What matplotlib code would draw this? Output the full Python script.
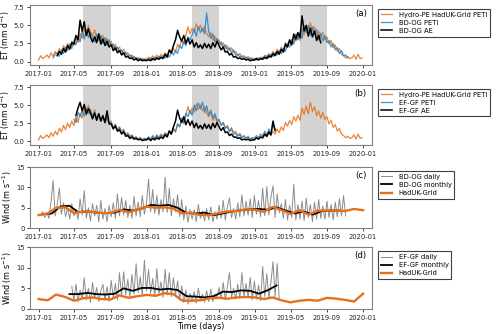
import numpy as np
import pandas as pd
import matplotlib
matplotlib.use("Agg")
from matplotlib import pyplot as plt
import matplotlib.dates as mdates

# ---- ET data (weekly values, mm/day) ----
hydro_pe_start = "2017-01-01"
hydro_pe = [
    # 2017
    0.2, 0.8, 0.4, 0.6, 0.9, 0.5, 1.2, 0.7, 1.4, 0.9, 1.8, 1.3, 2.2,
    1.6, 2.5, 1.9, 2.8, 2.2, 3.4, 2.6, 3.9, 3.2, 4.6, 3.6, 5.0, 4.1,
    3.5, 4.4, 3.0, 3.9, 2.8, 3.6, 2.5, 3.2, 2.4, 2.8, 1.9, 2.4, 1.6,
    2.0, 1.3, 1.7, 1.0, 1.2, 0.7, 0.9, 0.5, 0.6, 0.3, 0.5, 0.2, 0.4,
    # 2018
    0.3, 0.6, 0.3, 0.8, 0.4, 0.9, 0.5, 1.0, 0.7, 1.2, 0.8, 1.5, 1.1,
    1.8, 1.3, 2.4, 2.0, 3.0, 2.4, 3.6, 4.8, 3.8, 4.6, 4.0, 5.2, 4.4,
    5.0, 4.2, 4.8, 3.9, 3.4, 4.0, 2.9, 3.5, 2.6, 3.0, 2.2, 2.6, 1.8,
    2.2, 1.5, 1.9, 1.2, 1.4, 0.8, 1.1, 0.6, 0.8, 0.4, 0.7, 0.3, 0.5,
    # 2019
    0.2, 0.5, 0.3, 0.6, 0.4, 0.9, 0.6, 1.1, 0.8, 1.4, 1.0, 1.7, 1.2,
    2.0, 1.5, 2.6, 2.1, 2.9, 2.3, 3.4, 2.8, 3.6, 2.9, 4.6, 3.7, 4.9,
    3.8, 5.4, 4.1, 4.8, 3.5, 4.2, 3.2, 4.0, 3.0, 3.4, 2.4, 2.9, 1.9,
    2.3, 1.4, 1.8, 1.0, 0.8, 0.5, 0.7, 0.4, 0.5, 0.9, 0.3, 1.0, 0.4,
    0.5,
]

bdog_peti_start = "2017-02-19"
bdog_peti = [
    0.5, 1.0,
    1.2, 0.7, 1.6, 1.1, 2.0, 1.5, 2.4, 1.8, 2.9, 2.3, 3.5, 2.7, 4.2,
    3.1, 4.4, 3.3, 4.0, 3.4, 2.7, 3.8, 2.9, 3.6, 2.5, 3.3, 2.2, 3.0, 2.1,
    2.4, 1.6, 2.0, 1.3, 1.6, 1.0, 1.3, 0.7, 0.9, 0.5, 0.7, 0.3, 0.5,
    0.2, 0.4, 0.1, 0.3,
    0.2, 0.5, 0.2, 0.6, 0.3, 0.7, 0.4, 0.8, 0.5, 1.0, 0.6, 1.3, 0.9,
    1.5, 1.1, 2.2, 1.8, 2.8, 2.2, 3.4, 3.0, 3.7, 4.5, 3.5, 4.8, 4.0,
    4.6, 3.8, 6.7, 4.2, 3.2, 3.8, 2.7, 3.2, 2.4, 2.7, 1.9, 2.3, 1.6,
    1.9, 1.2, 1.6, 0.9, 1.0, 0.6, 0.8, 0.4, 0.6, 0.3, 0.5, 0.2, 0.4,
    0.2, 0.5, 0.3, 0.6, 0.4, 0.8, 0.5, 1.0, 0.7, 1.2, 0.9, 1.5, 1.1,
    1.8, 1.4, 2.5, 2.0, 3.0, 2.4, 3.8, 3.0, 4.0, 3.2, 4.9, 4.0, 5.0,
    3.6, 4.8, 3.8, 4.4, 3.0, 3.9, 2.8, 3.6, 2.6, 2.9, 2.0, 2.5, 1.6,
    1.9, 1.1, 1.5, 0.8, 0.9, 0.5,
]

bdog_ae_start = "2017-03-05"
bdog_ae = [
    0.8, 1.4, 1.0, 1.8, 1.3, 2.2, 1.7, 2.6, 2.4, 3.6, 3.0, 5.7,
    4.2, 5.5, 3.6, 4.5, 3.4, 2.7, 3.4, 2.6, 3.8, 2.4, 3.1, 2.2, 2.8, 2.0,
    2.3, 1.5, 1.9, 1.2, 1.5, 0.9, 1.2, 0.6, 0.7, 0.4, 0.5, 0.2, 0.4,
    0.1, 0.3, 0.1, 0.2,
    0.1, 0.3, 0.1, 0.4, 0.2, 0.5, 0.3, 0.6, 0.4, 1.0, 0.6, 1.6, 1.2,
    2.2, 3.0, 4.3, 3.4, 2.8, 3.6, 2.5, 3.2, 2.4, 3.0, 2.0, 2.6, 1.9,
    2.3, 1.8, 2.5, 1.9, 2.4, 1.8, 2.6, 2.0, 2.8, 2.2, 1.6, 2.0, 1.3,
    1.4, 0.9, 1.1, 0.6, 0.7, 0.4, 0.5, 0.3, 0.4, 0.2, 0.3, 0.1, 0.2,
    0.2, 0.4, 0.2, 0.4, 0.3, 0.6, 0.4, 0.8, 0.6, 1.1, 0.8, 1.4, 1.0,
    1.7, 1.3, 2.4, 2.0, 3.0, 2.3, 3.8, 3.1, 4.0, 3.3, 6.3, 4.2, 5.0,
    3.5, 4.6, 3.4, 4.2, 2.9, 3.6, 2.6,
]

efgf_peti_start = "2017-04-30"
efgf_peti = [
    3.0, 2.6, 4.0, 3.4, 4.2, 3.5, 4.6, 3.8, 4.4, 3.2, 4.0, 3.0, 3.7,
    2.9, 3.6, 2.6, 3.4, 2.5, 2.6, 1.8, 2.3, 1.6, 1.9, 1.2, 1.5, 0.9,
    1.0, 0.6, 0.8, 0.4, 0.6, 0.3, 0.5, 0.2, 0.4,
    0.3, 0.6, 0.3, 0.7, 0.4, 0.8, 0.5, 0.9, 0.6, 1.1, 0.8, 1.4, 1.0,
    1.7, 1.3, 2.4, 2.0, 3.2, 2.6, 3.9, 3.4, 4.3, 3.6, 5.0, 4.2, 5.3,
    4.5, 5.4, 4.0, 4.9, 3.6, 4.3, 3.2, 3.8, 2.9, 3.0, 2.2, 2.6, 1.8,
    2.0, 1.3, 1.7, 1.0, 1.1, 0.7, 0.9, 0.5, 0.7, 0.4, 0.6, 0.3, 0.5,
    0.4, 0.8, 0.5, 1.0, 0.7, 1.4, 0.9, 1.7, 1.2, 2.3, 1.6,
]

efgf_ae_start = "2017-05-07"
efgf_ae = [
    3.6, 4.6, 5.4, 4.2, 5.1, 3.8, 4.5, 3.9, 3.1, 3.9, 2.9, 3.8,
    2.8, 3.5, 2.6, 4.2, 2.4, 2.4, 1.7, 2.1, 1.4, 1.6, 1.0, 1.3, 0.7,
    0.8, 0.4, 0.6, 0.3, 0.4, 0.2, 0.3, 0.1, 0.2,
    0.2, 0.4, 0.1, 0.4, 0.2, 0.5, 0.3, 0.6, 0.4, 0.9, 0.6, 1.4, 1.0,
    2.0, 2.8, 4.3, 3.2, 2.6, 3.4, 2.3, 3.0, 2.2, 2.8, 1.9, 2.5, 1.8,
    2.2, 1.7, 2.4, 1.8, 2.3, 1.7, 2.5, 1.9, 2.6, 2.0, 1.5, 1.9, 1.2,
    1.3, 0.8, 1.0, 0.6, 0.6, 0.4, 0.5, 0.2, 0.3, 0.2, 0.3, 0.1, 0.2,
    0.2, 0.5, 0.3, 0.6, 0.5, 1.0, 0.7, 1.3, 0.9, 2.8, 1.5,
]

# ---- Wind data (m/s) ----
bdog_wind_start = "2017-01-08"
bdog_wind_daily = [
    3.2, 4.0, 2.6, 3.8, 2.4, 6.5, 11.7, 3.0, 5.8, 9.8, 3.4, 6.2, 2.8,
    5.0, 2.2, 6.0, 3.0, 4.5, 2.1, 7.2, 3.2, 9.2, 2.5, 5.0, 1.8, 6.0,
    3.0, 5.6, 1.5, 6.8, 2.2, 4.8, 1.6, 5.5, 2.8, 6.2, 2.4, 8.4, 3.0,
    7.5, 3.2, 6.8, 2.6, 5.6, 2.4, 7.8, 3.0, 6.4, 2.8, 8.0, 3.4, 6.0,
    12.0, 4.0, 9.5, 3.6, 8.0, 3.2, 7.0, 4.0, 12.5, 3.8, 9.8, 3.0, 7.2,
    4.0, 8.2, 2.8, 7.0, 2.0, 5.4, 1.4, 4.6, 2.2, 4.5, 1.6, 5.8, 2.4,
    4.2, 1.8, 4.8, 2.0, 5.2, 1.6, 4.0, 2.2, 5.6, 2.4, 6.8, 2.0, 5.2,
    7.4, 2.6, 4.8, 2.2, 6.2, 2.8, 8.2, 3.0, 6.6, 3.2, 7.2, 2.6, 8.0,
    3.4, 6.8, 2.8, 9.8, 3.0, 10.2, 3.2, 7.6, 10.4, 2.6, 8.4, 3.8, 6.0,
    2.4, 7.0, 2.0, 5.6, 2.6, 10.8, 2.0, 5.8, 2.2, 6.6, 1.8, 7.4, 2.6,
    5.8, 1.6, 6.4, 2.2, 7.0, 2.4, 5.4, 2.2, 6.6, 2.6, 5.8, 2.0, 6.4,
    2.8, 7.2, 3.0, 8.0, 3.0,
]
bdog_wind_monthly_start = "2017-01"
bdog_wind_monthly = [
    3.4, 3.6, 5.3, 5.5, 3.9, 4.1, 3.8, 3.7, 3.8, 4.6, 4.3, 4.8,
    5.7, 5.5, 5.7, 5.0, 3.7, 3.6, 3.8, 3.2, 3.6, 4.1, 4.4, 4.6,
    4.7, 4.5, 5.1, 4.3, 3.6, 4.1, 3.3, 4.2, 4.3, 4.3,
]
had_wind_c = [
    3.2, 3.6, 5.0, 5.1, 3.7, 4.1, 4.0, 3.7, 3.7, 4.5, 3.9, 4.6,
    5.3, 5.0, 5.1, 4.8, 3.6, 3.8, 3.2, 3.2, 3.7, 4.1, 4.2, 4.6,
    4.5, 4.0, 5.2, 4.4, 3.5, 4.4, 3.3, 4.3, 4.3, 4.3, 4.2, 4.7,
    4.4,
]

efgf_wind_start = "2017-04-23"
efgf_wind_daily = [
    5.5, 2.0, 6.0, 1.8, 4.6, 2.4, 7.6, 2.2, 5.0, 1.6, 6.4,
    2.6, 5.2, 1.8, 4.4, 6.0, 2.2, 5.4, 1.8, 7.0, 2.6, 6.2, 2.2, 8.8,
    3.0, 9.0, 3.4, 7.2, 2.8, 8.4, 3.6, 11.0, 4.0, 7.8, 3.2, 11.8, 4.4,
    9.6, 3.8, 7.4, 3.0, 9.8, 3.6, 6.6, 2.8, 9.6, 3.4, 8.8, 3.0, 7.6,
    3.2, 6.8, 2.4, 5.6, 1.6, 4.6, 1.2, 3.8, 1.8, 4.2, 1.4, 5.0, 2.0,
    3.6, 1.6, 4.4, 1.8, 4.8, 1.8, 3.6, 2.4, 5.2, 2.6, 6.4, 2.2, 5.4,
    8.8, 2.8, 5.0, 2.4, 6.0, 2.6, 8.8, 3.0, 6.2, 2.8, 7.6, 2.2, 6.8,
    2.4, 5.8, 2.0, 10.3, 3.0, 8.6, 2.6, 6.4, 11.5, 3.0, 11.0, 2.2,
]
efgf_wind_monthly_start = "2017-04"
efgf_wind_monthly = [
    3.6, 3.6, 3.9, 3.6, 3.5, 3.7, 5.0, 4.4, 5.1,
    5.1, 4.7, 4.9, 4.6, 3.1, 3.0, 2.8, 3.1, 4.2, 4.1, 4.5, 4.4,
    3.7, 4.6, 5.7,
]
had_wind_d = [
    2.4, 2.1, 3.5, 2.9, 2.0, 2.6, 2.8, 2.4, 2.3, 3.3, 2.7, 3.1,
    3.4, 3.2, 3.8, 3.6, 2.0, 2.0, 2.1, 2.6, 2.7, 2.5, 2.8, 2.9,
    2.8, 2.4, 2.8, 2.1, 1.6, 2.0, 2.2, 2.0, 2.7, 2.5, 2.2, 1.8,
    3.7,
]


def weekly(start, vals):
    return pd.date_range(start, periods=len(vals), freq="7D")


def midmonth(start, vals):
    return pd.date_range(start, periods=len(vals), freq="MS") + pd.Timedelta(days=14)


had_dates = pd.date_range("2017-01-01", periods=37, freq="MS")

c_orange = "#e8701a"
c_blue = "#2a86c8"

fig = plt.figure(figsize=(5, 3.34), dpi=100)
boxes = [[0.06, 0.805, 0.684, 0.18], [0.06, 0.566, 0.684, 0.18],
         [0.06, 0.317, 0.684, 0.183], [0.06, 0.075, 0.684, 0.185]]
axs = [fig.add_axes(b) for b in boxes]

# ET panels
for ax, peti, peti_s, ae, ae_s, site in [
        (axs[0], bdog_peti, bdog_peti_start, bdog_ae, bdog_ae_start, "BD-OG"),
        (axs[1], efgf_peti, efgf_peti_start, efgf_ae, efgf_ae_start, "EF-GF")]:
    for yr in [2017, 2018, 2019]:
        ax.axvspan(pd.Timestamp(f"{yr}-06-01"), pd.Timestamp(f"{yr}-09-01"),
                   color="#d3d3d3", lw=0, zorder=0)
    ax.plot(weekly(hydro_pe_start, hydro_pe), hydro_pe, color=c_orange, lw=0.9,
            alpha=0.85, label="Hydro-PE HadUK-Grid PETI")
    ax.plot(weekly(peti_s, peti), peti, color=c_blue, lw=0.9, alpha=0.9,
            label=site + " PETI")
    ax.plot(weekly(ae_s, ae), ae, color="black", lw=1.1, label=site + " AE")
    ax.set_ylim(-0.5, 7.8)
    ax.set_yticks([0, 2.5, 5.0, 7.5])
    ax.set_ylabel("ET (mm d$^{-1}$)", fontsize=5.5, labelpad=1)

# wind panels
for ax, daily, d_s, monthly, m_s, had, site in [
        (axs[2], bdog_wind_daily, bdog_wind_start, bdog_wind_monthly,
         bdog_wind_monthly_start, had_wind_c, "BD-OG"),
        (axs[3], efgf_wind_daily, efgf_wind_start, efgf_wind_monthly,
         efgf_wind_monthly_start, had_wind_d, "EF-GF")]:
    ax.plot(weekly(d_s, daily), daily, color="#8c8c8c", lw=0.7,
            label=site + " daily")
    ax.plot(midmonth(m_s, monthly), monthly, color="black", lw=1.3,
            label=site + " monthly")
    ax.plot(had_dates, had, color=c_orange, lw=1.7, label="HadUK-Grid")
    ax.set_ylim(0, 15)
    ax.set_yticks([0, 5, 10, 15])
    ax.set_ylabel("Wind (m s$^{-1}$)", fontsize=5.8, labelpad=1.5)

for ax, lab in zip(axs, ["(a)", "(b)", "(c)", "(d)"]):
    ax.set_xlim(pd.Timestamp("2016-12-03"), pd.Timestamp("2020-01-31"))
    ax.xaxis.set_major_locator(mdates.MonthLocator(bymonth=[1, 5, 9]))
    ax.xaxis.set_major_formatter(mdates.DateFormatter("%Y-%m"))
    ax.tick_params(labelsize=4.9, length=2.5, width=0.6, pad=1.5, colors="#222222")
    for s in ax.spines.values():
        s.set_color("#808080")
        s.set_linewidth(0.8)
    ax.text(0.985, 0.93, lab, transform=ax.transAxes, ha="right", va="top",
            fontsize=6.2)
    leg = ax.legend(loc="upper left", bbox_to_anchor=(1.018, 0.933), fontsize=4.9,
                    fancybox=False, edgecolor="#404040", framealpha=1,
                    borderaxespad=0, handlelength=1.7, handletextpad=0.9,
                    labelspacing=0.3)
    leg.get_frame().set_linewidth(0.8)

axs[3].set_xlabel("Time (days)", fontsize=5.8, labelpad=1)

fig.savefig("out.png", dpi=100)
